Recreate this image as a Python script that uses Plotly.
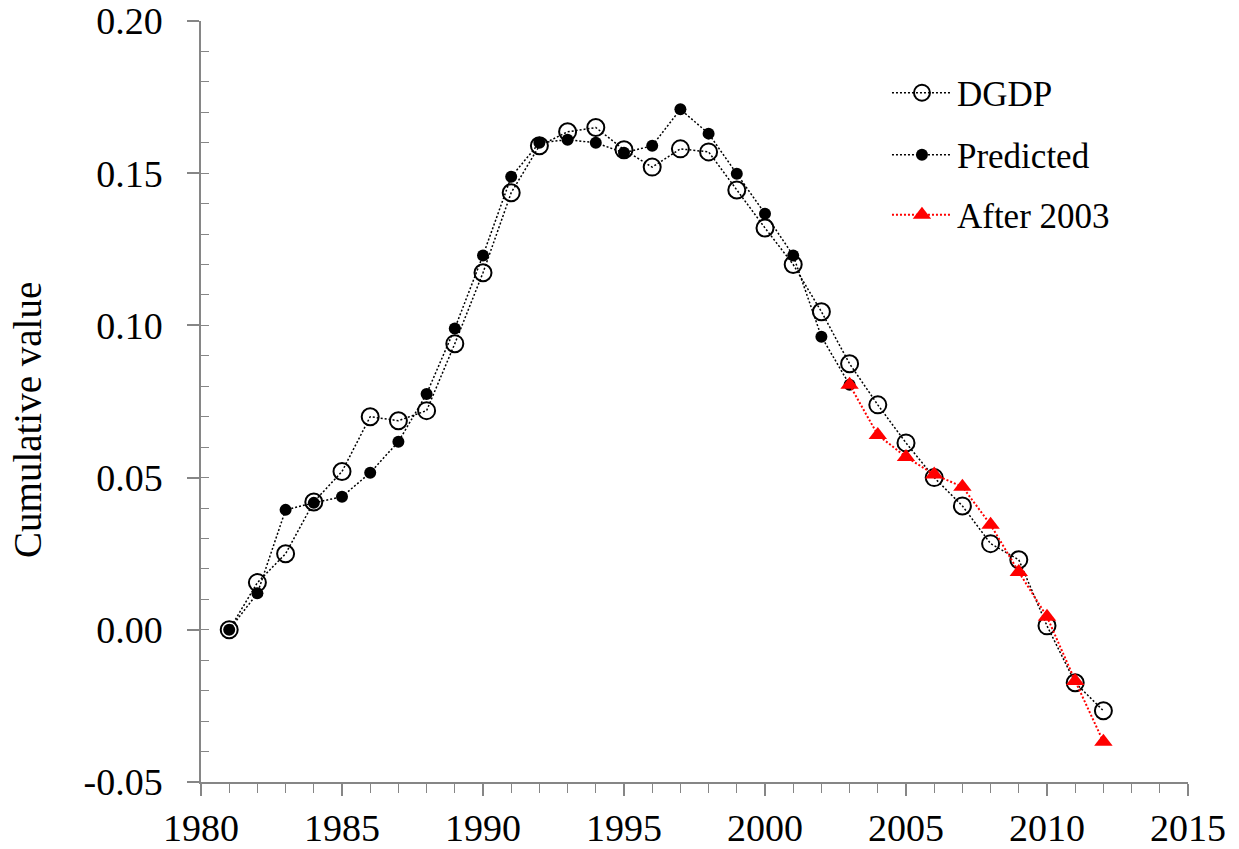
import plotly.graph_objects as go

years_dgdp = list(range(1981, 2013))
dgdp = [0.000, 0.0155, 0.025, 0.042, 0.052, 0.070, 0.0687, 0.072, 0.094, 0.1173,
        0.1436, 0.159, 0.1636, 0.165, 0.1577, 0.152, 0.158, 0.157, 0.1445, 0.132,
        0.120, 0.1045, 0.0874, 0.0739, 0.0614, 0.050, 0.0407, 0.0283, 0.023, 0.0013,
        -0.0174, -0.0266]

years_pred = list(range(1981, 2004))
predicted = [0.000, 0.012, 0.0394, 0.0417, 0.0437, 0.0516, 0.0618, 0.0775, 0.099, 0.123,
             0.1488, 0.160, 0.161, 0.160, 0.1567, 0.159, 0.171, 0.163, 0.1498, 0.1367,
             0.123, 0.0963, 0.0805]

years_after = list(range(2003, 2013))
after_2003 = [0.0805, 0.064, 0.0568, 0.051, 0.047, 0.0345, 0.019, 0.0043, -0.0168, -0.0368]

x_tickvals = [1980, 1985, 1990, 1995, 2000, 2005, 2010, 2015]
x_ticktext = ["1980", "1985", "1990", "1995", "2000", "2005", "2010", "2015"]
y_tickvals = [-0.05, 0.0, 0.05, 0.10, 0.15, 0.20]
y_ticktext = ["-0.05", "0.00", "0.05", "0.10", "0.15", "0.20"]
y_title = "Cumulative value"

FONT = "Liberation Serif"
AXIS_COLOR = "#868686"
TICK_SIZE = 38
LEG_SIZE = 35

fig = go.Figure()
fig.add_trace(go.Scatter(
    x=years_dgdp, y=dgdp, name="DGDP", mode="lines+markers", legend="legend",
    line=dict(color="black", width=1.5, dash="2px,2px"),
    marker=dict(symbol="circle-open", size=17, color="black", line=dict(width=2, color="black")),
))
fig.add_trace(go.Scatter(
    x=years_pred, y=predicted, name="Predicted", mode="lines+markers", legend="legend2",
    line=dict(color="black", width=1.5, dash="2px,2px"),
    marker=dict(symbol="circle", size=12, color="black"),
))
fig.add_trace(go.Scatter(
    x=years_after, y=after_2003, name="After 2003", mode="lines+markers", legend="legend3",
    line=dict(color="#ff0000", width=2, dash="2px,2px"),
    marker=dict(symbol="triangle-up", size=16, color="#ff0000"),
))
# empty helper trace so the inside minor-tick overlay axis is drawn
fig.add_trace(go.Scatter(x=[], y=[], yaxis="y2", showlegend=False, hoverinfo="skip"))

leg_common = dict(x=0.695, xanchor="left", yanchor="middle",
                  bgcolor="rgba(0,0,0,0)", font=dict(size=LEG_SIZE, family=FONT, color="black"),
                  itemwidth=60)
fig.update_layout(
    width=1239, height=849,
    margin=dict(l=201, r=51, t=21, b=67),
    plot_bgcolor="white", paper_bgcolor="white",
    font=dict(family=FONT, size=TICK_SIZE, color="black"),
    showlegend=True,
    legend=dict(y=0.9054, **leg_common),
    legend2=dict(y=0.8239, **leg_common),
    legend3=dict(y=0.745, **leg_common),
    xaxis=dict(
        range=[1980, 2015], tickmode="array", tickvals=x_tickvals, ticktext=x_ticktext,
        showgrid=False, zeroline=False, automargin=False, ticklabeloverflow="allow",
        showline=True, linecolor=AXIS_COLOR, linewidth=1.5,
        ticks="outside", ticklen=12, tickwidth=1.5, tickcolor=AXIS_COLOR,
        minor=dict(ticks="outside", tickmode="linear", tick0=1980, dtick=1, ticklen=9,
                   tickwidth=1.2, tickcolor=AXIS_COLOR, showgrid=False),
        tickfont=dict(size=TICK_SIZE, family=FONT),
    ),
    yaxis=dict(
        range=[-0.05, 0.20], tickmode="array", tickvals=y_tickvals, ticktext=y_ticktext,
        showgrid=False, zeroline=False, automargin=False, ticklabeloverflow="allow",
        showline=True, linecolor=AXIS_COLOR, linewidth=1.5,
        ticks="outside", ticklen=12, tickwidth=1.5, tickcolor=AXIS_COLOR,
        tickfont=dict(size=TICK_SIZE, family=FONT),
        ticklabelstandoff=17,
    ),
    yaxis2=dict(range=[-0.05, 0.20], overlaying="y", side="left", anchor="x",
                tickmode="linear", tick0=-0.05, dtick=0.01, ticks="inside", ticklen=8,
                tickwidth=1.2, tickcolor=AXIS_COLOR, showticklabels=False,
                showline=False, showgrid=False, zeroline=False, automargin=False),
    annotations=[dict(
        text=y_title, xref="paper", yref="paper", x=-0.1753, y=0.4757,
        xanchor="center", yanchor="middle", textangle=-90, showarrow=False,
        font=dict(size=39, family=FONT, color="black"),
    )],
)

fig.write_html("out.html", config={"displayModeBar": False},
               post_script="document.body.style.margin='0';")
